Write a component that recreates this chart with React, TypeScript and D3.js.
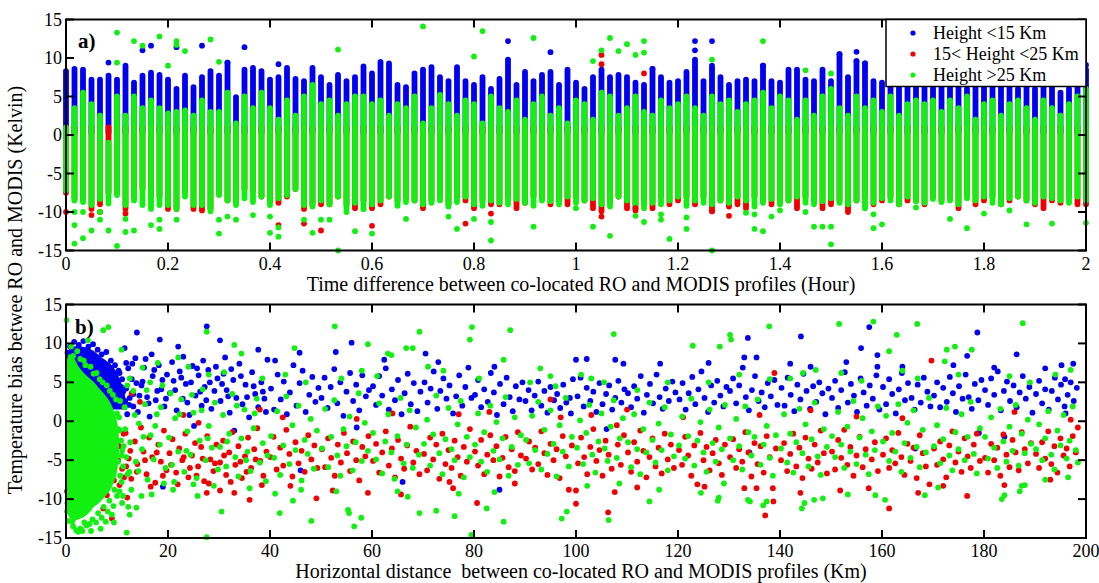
import React from 'react';
import * as d3 from 'd3';

const BLUE = '#0000f0';
const RED = '#f00000';
const GREEN = '#11f011';

// ---------- Panel a: one column per minute of time difference (0..120 min) ----------
const A_MINUTES = d3.range(0, 121);
const A_BLUE_TOP = [
  8.3, 8.6, 8.5, 7.2, 7.2, 7.7, 7.2, 9.0, 6.8, 7.7,
  8.1, 7.8, 7.2, 6.0, 7.7, 6.2, 7.5, 8.3, 7.7, 9.4,
  4.9, 8.5, 8.7, 8.3, 7.2, 7.5, 8.7, 7.3, 7.0, 8.7,
  7.5, 6.5, 7.8, 7.0, 7.5, 8.9, 8.0, 9.5, 9.3, 6.5,
  6.2, 8.0, 8.5, 8.8, 7.5, 7.0, 8.8, 7.0, 6.5, 7.5,
  6.0, 7.3, 9.8, 6.5, 8.2, 7.0, 7.8, 8.2, 6.5, 8.5,
  6.8, 6.0, 7.5, 8.5, 7.5, 7.8, 7.5, 6.8, 6.5, 8.6,
  7.5, 6.8, 7.0, 8.2, 9.8, 7.0, 9.0, 7.5, 6.5, 7.0,
  7.2, 7.0, 9.0, 7.0, 6.8, 8.5, 8.5, 7.2, 7.0, 8.5,
  7.0, 10.5, 7.5, 9.6, 9.3, 7.0, 6.8, 6.5, 7.5, 6.8,
  7.0, 6.5, 7.0, 7.2, 6.5, 7.0, 6.0, 6.5, 7.0, 6.5,
  6.8, 6.5, 6.0, 7.5, 6.0, 6.5, 7.5, 5.5, 6.0, 6.5,
  8.5,
];
const A_BLUE_BOT = 0.3;
const A_RED_TOP = 1.0;
const A_GREEN_TOP = [
  1.0, 3.5, 5.5, 4.0, 2.5, -1.0, 5.0, 2.5, 5.0, 3.5,
  4.5, 3.5, 2.8, 3.0, 3.2, 2.5, 4.5, 3.0, 3.0, 5.5,
  1.5, 5.0, 3.5, 5.5, 3.5, 2.0, 4.5, 2.5, 5.0, 6.5,
  4.0, 4.5, 2.5, 4.0, 5.0, 5.0, 4.0, 4.5, 2.5, 4.0,
  3.5, 5.0, 1.5, 3.5, 5.2, 4.0, 2.5, 4.5, 4.0, 1.5,
  5.0, 3.5, 3.0, 4.5, 2.0, 4.0, 5.0, 2.5, 3.5, 1.5,
  4.5, 4.0, 2.0, 5.5, 5.0, 2.5, 3.5, 5.0, 3.0, 2.5,
  4.5, 3.5, 4.0, 5.0, 3.5, 2.5, 5.0, 4.0, 4.5, 3.0,
  4.0, 4.5, 5.5, 3.5, 5.0, 4.5, 2.0, 4.5, 2.5, 5.0,
  6.0, 3.5, 2.5, 5.0, 3.5, 4.5, 3.0, 5.0, 2.5, 4.0,
  4.5, 4.0, 4.5, 3.0, 4.5, 3.5, 5.0, 2.0, 4.0, 4.5,
  2.5, 4.0, 4.5, 3.5, 2.0, 4.5, 3.5, 2.5, 4.0, 5.0,
  6.0,
];
const A_GREEN_BOT = [
  -7.2, -8.5, -8.7, -9.1, -8.3, -8.9, -7.8, -9.1, -8.5, -9.1,
  -9.6, -9.1, -9.1, -9.6, -8.0, -9.1, -9.1, -9.9, -7.8, -8.5,
  -9.1, -8.2, -8.7, -8.0, -9.1, -8.2, -7.8, -7.0, -9.1, -9.3,
  -8.5, -9.0, -8.0, -9.5, -8.8, -9.6, -9.0, -8.5, -8.0, -9.2,
  -8.7, -8.5, -9.0, -8.8, -8.5, -9.3, -8.7, -8.0, -9.0, -9.2,
  -8.5, -8.8, -9.0, -8.3, -8.8, -9.2, -8.5, -8.6, -9.0, -8.0,
  -8.8, -8.5, -8.2, -9.0, -9.3, -8.0, -8.5, -9.0, -9.5, -8.8,
  -9.0, -8.5, -8.0, -9.2, -8.5, -8.8, -9.0, -8.5, -8.8, -8.0,
  -8.5, -9.3, -8.8, -8.3, -9.0, -8.5, -8.0, -8.8, -9.0, -8.6,
  -8.2, -8.8, -9.0, -8.5, -9.5, -8.8, -8.2, -8.5, -9.0, -8.0,
  -8.6, -8.8, -8.3, -8.7, -8.5, -9.0, -8.2, -8.5, -8.0, -8.8,
  -9.0, -8.2, -8.0, -8.5, -8.8, -8.0, -8.2, -8.5, -8.8, -8.0,
  -8.5,
];
const A_RED_BOT = [
  -7.5, -8.3, -8.3, -9.6, -9.0, -7.5, -7.5, -9.6, -8.0, -7.0,
  -8.0, -8.0, -9.6, -9.6, -7.3, -9.6, -9.8, -9.6, -7.6, -8.5,
  -8.5, -7.0, -7.2, -8.0, -8.5, -8.8, -8.0, -7.0, -9.6, -9.0,
  -9.0, -9.0, -8.0, -9.0, -9.5, -8.5, -9.5, -9.0, -8.0, -8.5,
  -8.0, -8.5, -9.5, -8.5, -8.0, -9.0, -8.0, -8.5, -9.5, -8.5,
  -9.0, -9.0, -8.0, -9.5, -8.8, -8.0, -8.0, -9.0, -8.5, -9.0,
  -8.0, -8.5, -9.5, -9.9, -8.5, -8.0, -9.5, -9.8, -8.5, -9.5,
  -8.0, -9.0, -8.5, -8.0, -9.0, -8.0, -9.9, -8.5, -9.3, -9.0,
  -9.5, -8.0, -8.5, -9.0, -8.5, -8.5, -9.5, -8.0, -8.5, -9.5,
  -9.0, -8.5, -10.0, -8.5, -8.0, -9.0, -8.5, -8.0, -9.0, -8.5,
  -8.5, -9.0, -8.0, -8.5, -8.0, -9.5, -8.0, -9.0, -8.5, -8.0,
  -9.0, -8.5, -8.0, -8.5, -9.0, -9.5, -8.5, -8.8, -8.0, -9.0,
  -9.0,
];
// isolated points [minute, bias K]
const A_BLUE_OUT: [number, number][] = [
  [5, 9.4], [9, 11.0], [10, 11.6], [13, 11.4], [16, 11.6], [21, 11.4], [19, 9.4], [25, 9.2],
  [52, 12.2], [57, 10.75], [74, 12.2], [74, 11.0], [76, 12.2], [69, 8.6], [91, 10.5],
  [93, 10.8], [93, 9.6], [94, 9.3], [82, 9.0], [120, 9.1],
];
const A_RED_OUT: [number, number][] = [
  [0, -10.0], [3, -10.4], [4, -10.0], [7, -10.2], [25, -11.7], [28, -11.5], [30, -12.4],
  [36, -11.8], [47, -11.5], [50, -10.2], [63, -10.6], [67, -9.5], [76, -9.9], [78, -10.5],
  [63, 10.4], [63, 9.2], [68, 8.0],
];
const A_GREEN_OUT: [number, number][] = [
  [6, 13.3], [8, 12.2], [9, 11.6], [11, 12.8], [13, 12.2], [13, 11.7], [14, 10.9], [17, 12.4],
  [6, 9.4], [12, 9.0], [18, 9.5], [32, 11.1], [42, 14.1], [49, 13.5], [48, 10.2], [55, 12.6],
  [62, 9.6], [64, 12.6], [63, 11.0], [65, 10.9], [66, 11.8], [68, 12.2], [68, 10.7], [67, 10.4],
  [76, 9.8], [82, 12.2], [87, 8.4], [90, 8.0],
  [1, -10.0], [1, -11.7], [1, -14.1], [2, -10.0], [2, -13.4], [3, -12.4], [4, -10.0], [4, -11.0],
  [5, -12.4], [6, -14.4], [7, -10.9], [7, -12.6], [8, -12.4], [10, -11.7], [11, -11.0],
  [11, -12.2], [13, -11.0], [18, -11.0], [18, -12.8], [19, -10.6], [20, -11.0], [22, -10.4],
  [24, -10.6], [24, -12.7], [25, -12.0], [25, -13.2], [28, -11.0], [29, -12.7], [30, -11.0],
  [31, -11.0], [32, -15.0], [33, -10.0], [34, -12.5], [35, -9.6], [36, -12.8], [40, -10.9],
  [45, -10.6], [46, -12.2], [48, -10.9], [50, -13.7], [50, -11.3], [55, -11.9], [60, -9.5],
  [62, -11.9], [64, -13.1], [67, -10.5], [68, -11.3], [70, -10.3], [70, -11.0], [71, -13.5],
  [73, -10.7], [73, -12.2], [76, -15.0], [80, -10.1], [81, -10.3], [81, -12.2], [82, -12.5],
  [83, -10.6], [84, -9.8], [87, -10.0], [88, -11.9], [89, -11.9], [90, -11.9], [90, -14.2],
  [95, -12.1], [95, -10.3], [96, -11.6], [100, -9.4], [104, -10.9], [106, -12.1], [108, -10.2],
  [111, -9.8], [113, -11.6], [116, -11.5], [120, -11.4],
];

// ---------- Panel b: horizontal distance (km) vs bias (K) ----------
// dense cloud near 0-12 km: envelopes [km, low, high]
const B_BLUE_CLOUD: [number, number, number][] = [
  [0, 0.0, 8.5], [1, 0.5, 9.5], [3, 1.0, 9.6], [5, 1.0, 9.2], [7, 1.2, 8.2],
  [9, 1.5, 7.2], [10.5, 1.5, 5.5], [11.5, 1.5, 3.5], [12, 1.5, 1.6],
];
const B_GREEN_CLOUD: [number, number, number][] = [
  [0, -11.0, 6.5], [0.6, -12.3, 8.6], [1.5, -12.8, 8.2], [2.5, -12.6, 7.0], [3.5, -12.3, 6.2],
  [4.5, -11.8, 5.6], [5.5, -11.0, 5.0], [6.5, -10.5, 4.2], [7.5, -9.8, 3.5], [8.5, -9.0, 2.6],
  [9.3, -8.0, 1.5], [10.0, -6.5, 0.0], [10.4, -4.5, -2.0],
];
const B_BLUE: [number, number][] = [
  [0.3, 8.8], [0.8, 9.6], [1.6, 10.2], [2.5, 9.8], [3.4, 10.3], [4.4, 9.6], [5.3, 9.9], [6.2, 9.2],
  [7.0, 8.6], [7.9, 8.9], [8.8, 7.8], [9.6, 7.2], [10.3, 6.5], [11.0, 5.4], [11.8, 4.2], [12.5, 3.0],
  [13.2, 1.9], [10.7, 2.3], [12.0, 0.9], [5.0, -9.7],
  [10.5, 6.2], [11.2, 3.8], [11.8, 7.5], [12.4, 2.1], [12.9, 5.4], [13.6, 8.1], [14.1, 1.2], [14.8, 4.6],
  [15.3, 6.9], [15.9, 3.1], [16.4, 0.6], [17.0, 5.8], [17.6, 2.7], [18.2, 7.2], [18.7, 4.1], [19.3, 1.9],
  [19.8, 6.0], [13.2, 3.5], [16.8, 8.6], [11.5, 9.4], [13.9, 11.4], [18.4, 10.5], [19.0, -8.4],
  [10.8, 4.4], [11.6, 2.6], [12.2, 6.8], [13.0, 7.4], [13.8, 4.9], [14.4, 3.3], [15.0, 5.1], [15.6, 8.0],
  [16.2, 2.3], [17.3, 6.6], [17.9, 3.9], [18.9, 5.3], [19.6, 2.9], [20.8, 7.6], [21.4, 4.0], [22.6, 5.6],
  [23.8, 2.4], [24.5, 5.0], [25.7, 6.8], [26.3, 3.8], [27.5, 2.7], [28.2, 5.0], [29.4, 7.0], [30.6, 4.8],
  [31.8, 3.2], [32.4, 6.7], [34.3, 5.8], [35.5, 3.1], [36.8, 4.5], [38.6, 3.8], [39.2, 1.2],
  [20.4, 3.6], [21.1, 5.2], [21.7, 1.4], [22.3, 6.4], [22.9, 2.9], [23.5, 4.8], [24.2, 0.8], [24.8, 7.1],
  [25.4, 3.3], [26.0, 5.9], [26.6, 2.0], [27.2, 4.4], [27.9, 6.6], [28.5, 1.6], [29.1, 3.9], [29.7, 5.5],
  [23.0, 8.3], [26.9, 7.8], [25.1, -0.6], [22.0, 9.6], [27.6, 12.2], [30.2, 10.4],
  [30.3, 2.6], [30.9, 6.1], [31.5, 4.0], [32.1, 1.1], [32.8, 5.3], [33.4, 3.0], [34.0, 7.4], [34.6, 2.2],
  [35.2, 4.7], [35.9, 0.5], [36.5, 6.3], [37.1, 3.5], [37.7, 1.8], [38.3, 5.0], [38.9, 2.9], [39.5, 7.9],
  [37.7, 9.2], [31.2, 8.2], [33.0, -1.2],
  [40.2, 4.2], [40.8, 1.5], [41.5, 6.0], [42.1, 2.8], [42.7, 5.1], [43.3, 0.9], [43.9, 3.7], [44.6, 7.2],
  [45.2, 2.0], [45.8, 4.9], [46.4, 6.5], [47.0, 1.2], [47.7, 3.4], [48.3, 5.7], [48.9, 2.5], [49.5, 4.3],
  [41.0, 7.8], [46.0, -6.3], [45.8, 8.8],
  [50.1, 3.0], [50.7, 5.6], [51.3, 1.7], [51.9, 4.4], [52.6, 6.7], [53.2, 2.3], [53.8, 5.0], [54.4, 0.7],
  [55.0, 3.8], [55.7, 6.2], [56.3, 2.6], [56.9, 4.7], [57.5, 1.4], [58.1, 5.9], [58.8, 3.2], [59.4, 4.0],
  [52.9, 8.9], [56.0, 10.1], [57.0, -0.8],
  [60.2, 4.5], [60.8, 2.1], [61.4, 5.8], [62.0, 3.3], [62.7, 6.8], [63.3, 1.5], [63.9, 4.1], [64.5, 2.7],
  [65.1, 5.3], [65.8, 0.9], [66.4, 3.6], [67.0, 6.1], [67.6, 2.2], [68.2, 4.9], [68.9, 1.3], [69.5, 3.8],
  [70.5, 8.7], [62.4, 7.9], [66.0, -7.8],
  [70.3, 5.0], [70.9, 2.4], [71.5, 4.2], [72.1, 6.4], [72.8, 1.6], [73.4, 3.9], [74.0, 5.5], [74.6, 2.9],
  [75.2, 4.6], [75.9, 1.0], [76.5, 3.2], [77.1, 5.9], [77.7, 2.0], [78.3, 4.4], [78.9, 6.9], [79.5, 3.0],
  [73.0, 7.6],
  [80.2, 3.4], [80.8, 5.3], [81.4, 1.8], [82.0, 4.1], [82.7, 2.5], [83.3, 6.2], [83.9, 3.7], [84.5, 0.8],
  [85.1, 4.8], [85.8, 2.2], [86.4, 5.6], [87.0, 3.1], [87.6, 1.3], [88.2, 4.5], [88.9, 2.8], [89.5, 5.0],
  [85.0, -8.8], [84.0, 7.0],
  [90.1, 2.6], [90.7, 4.0], [91.3, 1.4], [91.9, 3.3], [92.6, 5.1], [93.2, 2.0], [93.8, 3.9], [94.4, 1.1],
  [95.0, 4.4], [95.7, 2.7], [96.3, 3.5], [96.9, 1.7], [97.5, 4.7], [98.1, 2.4], [98.8, 3.0], [99.4, 5.4],
  [100.0, 7.9], [102.1, 8.0], [99.0, 1.0],
  [100.3, 3.2], [100.9, 5.6], [101.5, 1.9], [102.1, 4.3], [102.8, 2.6], [103.4, 3.8], [104.0, 1.2],
  [104.6, 4.9], [105.2, 2.2], [105.9, 3.5], [106.5, 4.6], [107.1, 1.5], [107.7, 3.0], [108.3, 5.2],
  [108.9, 2.4], [109.5, 4.1], [107.7, 7.9], [109.3, 7.4], [106.0, -1.0],
  [110.2, 3.6], [110.8, 1.8], [111.4, 4.5], [112.0, 2.9], [112.7, 5.8], [113.3, 1.1], [113.9, 3.4],
  [114.5, 4.8], [115.1, 2.3], [115.8, 6.0], [116.4, 3.1], [117.0, 1.6], [117.6, 4.2], [118.2, 2.6],
  [118.9, 5.1], [119.5, 3.7], [116.5, 7.4],
  [120.3, 2.8], [120.9, 4.9], [121.5, 1.5], [122.1, 3.6], [122.8, 5.7], [123.4, 2.2], [124.0, 4.1],
  [124.6, 6.4], [125.2, 3.0], [125.9, 1.2], [126.5, 4.6], [127.1, 2.4], [127.7, 5.2], [128.3, 3.3],
  [128.9, 1.9], [129.5, 4.4], [126.0, 7.5],
  [130.2, 3.9], [130.8, 5.5], [131.4, 2.3], [132.0, 4.6], [132.7, 6.9], [133.3, 3.1], [133.9, 1.4],
  [134.5, 4.0], [135.1, 5.8], [135.8, 2.6], [136.4, 3.7], [137.0, 1.8], [137.6, 4.9], [138.2, 3.2],
  [138.9, 5.3], [139.5, 2.1], [133.7, 10.7], [133.0, 8.2], [135.4, 8.2], [134.0, -4.0],
  [140.3, 4.3], [140.9, 2.0], [141.5, 5.6], [142.1, 3.4], [142.8, 1.3], [143.4, 4.7], [144.0, 2.8],
  [144.6, 6.1], [145.2, 3.9], [145.9, 1.6], [146.5, 4.5], [147.1, 2.5], [147.7, 5.0], [148.3, 3.6],
  [148.9, 0.9], [149.5, 4.2], [144.1, 10.9], [142.0, 7.4], [146.0, 7.0],
  [150.2, 3.0], [150.8, 5.2], [151.4, 1.7], [152.0, 4.0], [152.7, 6.3], [153.3, 2.4], [153.9, 4.8],
  [154.5, 3.3], [155.1, 1.2], [155.8, 5.5], [156.4, 3.7], [157.0, 2.0], [157.6, 4.6], [158.2, 2.9],
  [158.9, 5.9], [159.5, 1.5], [157.5, 12.1], [155.9, 9.4], [159.1, 8.5], [159.1, 7.0], [153.0, 7.6],
  [160.2, 4.4], [160.8, 2.2], [161.4, 5.4], [162.0, 3.5], [162.7, 1.0], [163.3, 4.1], [163.9, 6.2],
  [164.5, 2.7], [165.1, 4.9], [165.8, 3.0], [166.4, 1.5], [167.0, 4.7], [167.6, 2.4], [168.2, 5.6],
  [168.9, 3.8], [169.5, 1.9], [164.0, 7.0], [166.5, -3.5],
  [170.2, 3.3], [170.8, 5.0], [171.4, 1.8], [172.0, 4.3], [172.7, 2.5], [173.3, 5.7], [173.9, 3.6],
  [174.5, 1.2], [175.1, 4.5], [175.8, 2.9], [176.4, 6.0], [177.0, 3.1], [177.6, 1.6], [178.2, 4.8],
  [178.9, 2.7], [179.5, 5.3], [178.7, 11.4], [176.7, 8.4], [174.0, 7.2], [179.0, -1.5],
  [180.2, 4.0], [180.8, 2.1], [181.4, 5.5], [182.0, 3.4], [182.7, 6.4], [183.3, 1.4], [183.9, 3.9],
  [184.5, 5.1], [185.1, 2.6], [185.8, 4.6], [186.4, 1.8], [187.0, 3.7], [187.6, 5.8], [188.2, 2.9],
  [188.9, 4.4], [189.5, 1.1], [186.4, 8.6], [182.0, 6.9], [184.0, -2.0],
  [190.2, 3.5], [190.8, 5.2], [191.4, 2.3], [192.0, 4.1], [192.7, 1.5], [193.3, 3.9], [193.9, 5.6],
  [194.5, 2.8], [195.1, 4.7], [195.8, 1.9], [196.4, 3.4], [197.0, 5.0], [197.6, 2.6], [198.2, 4.3],
  [195.2, 7.2], [197.5, 7.4], [195.9, 5.4], [192.0, 6.8], [196.0, 1.0],
];
const B_RED: [number, number][] = [
  [0.2, -9.0], [0.3, -10.5], [0.5, -11.5], [1.0, -10.8], [7.8, -6.5], [8.6, -4.2], [9.4, -7.6],
  [10.0, -3.0], [10.5, -8.2], [11.3, -1.6], [11.8, -5.8], [8.0, -9.5], [9.0, -12.5], [7.3, -11.2],
  [12.9, 3.6], [9.6, -1.2],
  [10.2, -5.0], [11.4, -7.2], [12.6, -3.8], [13.9, -6.5], [15.5, -5.0], [16.6, -8.4], [17.8, -4.0],
  [19.0, -7.0], [20.6, -5.6], [21.9, -8.1], [23.1, -4.6], [24.3, -6.0], [25.6, -7.0], [26.8, -4.8],
  [28.0, -8.0], [29.2, -5.4], [31.0, -4.4], [32.3, -7.8], [34.2, -5.2], [35.4, -6.5], [37.2, -4.9],
  [38.4, -8.2],
  [10.4, -3.2], [11.0, -6.1], [11.7, -1.5], [12.3, -4.8], [12.8, -7.4], [13.5, -2.6], [14.0, -5.5],
  [14.7, -0.8], [15.2, -3.9], [15.8, -6.8], [16.3, -2.1], [16.9, -4.6], [17.5, -7.9], [18.1, -3.0],
  [18.6, -5.2], [19.2, -1.2], [19.7, -6.3], [12.0, -9.8], [14.5, 2.5],
  [20.3, -4.1], [20.9, -2.3], [21.6, -6.6], [22.2, -3.5], [22.8, -5.0], [23.4, -1.6], [24.0, -7.2],
  [24.7, -4.4], [25.3, -2.8], [25.9, -5.8], [26.5, -3.3], [27.1, -7.7], [27.7, -1.9], [28.3, -4.9],
  [28.9, -6.4], [29.5, -3.0], [27.6, -9.2], [23.0, 0.8], [26.0, -0.2],
  [30.2, -5.3], [30.8, -2.5], [31.4, -6.9], [32.0, -4.0], [32.6, -1.4], [33.2, -5.6], [33.8, -3.2],
  [34.5, -7.3], [35.1, -4.5], [35.7, -2.1], [36.3, -6.0], [36.9, -3.6], [37.5, -0.9], [38.1, -5.1],
  [38.7, -7.0], [39.3, -3.9], [30.2, -8.9], [33.0, -9.2], [36.0, -10.1], [38.0, 1.5],
  [40.1, -4.6], [40.7, -2.0], [41.3, -6.2], [42.0, -3.4], [42.6, -5.7], [43.2, -1.1], [43.8, -4.2],
  [44.4, -7.1], [45.0, -2.7], [45.6, -5.4], [46.2, -3.8], [46.8, -6.5], [47.5, -1.8], [48.1, -4.9],
  [48.7, -3.1], [49.3, -6.0], [49.1, -9.9], [44.0, -8.3], [42.5, 0.5],
  [50.2, -3.6], [50.8, -5.9], [51.4, -2.2], [52.0, -4.7], [52.7, -7.0], [53.3, -3.0], [53.9, -5.3],
  [54.5, -1.5], [55.1, -4.1], [55.7, -6.4], [56.3, -2.6], [56.9, -5.0], [57.5, -7.6], [58.1, -3.3],
  [58.7, -4.5], [59.3, -1.9], [52.3, -8.9], [59.2, -9.2], [57.0, 0.3],
  [60.2, -5.1], [60.8, -2.9], [61.4, -6.6], [62.0, -4.0], [62.7, -1.3], [63.3, -5.7], [63.9, -3.5],
  [64.5, -7.2], [65.1, -2.4], [65.7, -4.8], [66.3, -6.1], [66.9, -3.1], [67.5, -0.7], [68.1, -5.3],
  [68.7, -3.8], [69.3, -6.8], [65.7, -9.4], [64.0, 1.0],
  [70.2, -4.2], [70.8, -6.3], [71.4, -2.1], [72.0, -4.9], [72.6, -3.0], [73.2, -7.4], [73.8, -1.6],
  [74.4, -5.5], [75.0, -3.7], [75.6, -6.0], [76.2, -2.5], [76.8, -4.6], [77.4, -7.0], [78.0, -3.3],
  [78.6, -5.2], [79.2, -1.0], [75.2, -7.8], [75.9, -8.6], [77.0, 0.9],
  [80.2, -3.9], [80.8, -5.7], [81.4, -2.4], [82.0, -6.8], [82.6, -4.3], [83.2, -1.8], [83.8, -5.0],
  [84.4, -3.2], [85.0, -7.1], [85.6, -4.7], [86.2, -2.0], [86.8, -5.9], [87.4, -3.6], [88.0, -6.4],
  [88.6, -1.4], [89.2, -4.4], [80.6, -10.5], [83.0, 1.2], [88.0, -8.0],
  [90.2, -4.8], [90.8, -2.6], [91.4, -6.2], [92.0, -3.4], [92.6, -5.5], [93.2, -1.3], [93.8, -4.1],
  [94.4, -6.9], [95.0, -2.9], [95.6, -5.0], [96.2, -3.6], [96.8, -7.3], [97.4, -1.9], [98.0, -4.5],
  [98.6, -8.8], [99.2, -3.1], [100.0, -8.9], [100.0, -10.6], [97.0, 0.5], [95.0, 2.8],
  [100.4, -5.4], [101.0, -2.1], [101.6, -4.6], [102.2, -6.8], [102.8, -3.3], [103.4, -1.0],
  [104.0, -5.1], [104.6, -3.7], [105.2, -7.0], [105.8, -2.5], [106.4, -4.3], [107.0, -6.1],
  [107.6, -9.1], [108.2, -3.0], [108.8, -5.6], [109.4, -1.8], [106.3, -11.7], [108.0, -0.5],
  [103.0, 0.8],
  [110.2, -4.0], [110.8, -6.5], [111.4, -2.7], [112.0, -5.2], [112.6, -1.2], [113.2, -3.8],
  [113.8, -7.2], [114.4, -4.6], [115.0, -2.2], [115.6, -5.8], [116.2, -3.4], [116.8, -6.7],
  [117.4, -1.6], [118.0, -4.9], [118.6, -3.0], [119.2, -6.0], [110.0, 1.5], [112.0, -8.5],
  [120.2, -3.7], [120.8, -5.6], [121.4, -2.0], [122.0, -4.4], [122.6, -7.0], [123.2, -3.1],
  [123.8, -8.1], [124.4, -1.5], [125.0, -5.0], [125.2, -8.4], [125.6, -3.3], [126.2, -6.3],
  [126.8, -4.1], [127.4, -2.4], [128.0, -5.4], [128.6, -6.9], [129.2, -3.0], [121.0, 0.5],
  [130.2, -4.6], [130.8, -2.3], [131.4, -6.0], [132.0, -3.6], [132.6, -5.2], [133.2, -1.4],
  [133.8, -4.0], [134.4, -7.1], [135.0, -2.8], [135.6, -5.5], [136.2, -3.2], [136.8, -6.6],
  [137.4, -1.9], [137.1, -12.1], [138.0, -4.6], [138.6, -8.6], [138.7, -10.3], [139.2, -3.5],
  [138.9, 6.2], [133.0, -8.6], [135.4, -8.6], [136.0, 0.8],
  [140.2, -5.0], [140.8, -2.8], [141.4, -6.4], [142.0, -4.2], [142.6, -1.6], [143.2, -5.8],
  [143.8, -3.4], [144.4, -7.3], [145.0, -2.1], [145.6, -4.8], [146.2, -6.1], [146.8, -3.0],
  [147.4, -5.3], [148.0, -1.2], [148.6, -4.1], [149.2, -6.7], [144.0, -9.2], [146.0, 1.4],
  [150.2, -3.9], [150.8, -6.2], [151.4, -2.4], [151.8, -8.9], [152.0, -4.7], [152.6, -1.1],
  [153.2, -5.6], [153.8, -3.3], [154.4, -7.0], [155.0, -4.4], [155.6, -2.0], [156.2, -5.9],
  [156.8, -3.6], [157.4, -8.6], [158.0, -4.9], [158.6, -2.7], [159.2, -6.4], [155.0, 0.6],
  [160.2, -4.3], [160.8, -2.2], [161.4, -11.2], [161.4, -6.0], [162.0, -3.7], [162.6, -5.4],
  [163.2, -1.5], [163.8, -4.6], [164.4, -6.9], [165.0, -2.9], [165.6, -5.1], [166.2, -3.4],
  [166.8, -7.3], [167.1, -9.2], [167.4, -1.8], [168.0, -4.1], [168.6, -5.8], [169.3, -8.1],
  [169.7, 7.8], [164.0, 0.4],
  [170.2, -3.5], [170.8, -5.6], [171.4, -2.6], [172.0, -4.9], [172.6, -7.2], [173.2, -3.1],
  [173.8, -1.3], [174.4, -5.3], [175.0, -3.9], [175.6, -6.5], [176.2, -2.2], [176.7, -9.6],
  [176.8, -4.5], [177.4, -6.0], [178.0, -3.0], [178.6, -1.6], [179.2, -5.1], [172.0, -8.3],
  [180.2, -4.7], [180.8, -6.6], [181.4, -2.9], [182.0, -5.0], [182.6, -3.4], [183.2, -7.0],
  [183.8, -1.7], [184.4, -4.3], [185.0, -5.9], [185.6, -2.4], [186.2, -4.0], [186.8, -6.3],
  [187.4, -1.4], [188.0, -3.6], [188.6, -5.4], [189.2, -2.8], [186.0, 1.2], [184.0, -8.2],
  [190.2, -4.2], [190.8, -6.0], [191.4, -2.7], [192.0, -4.8], [192.6, -1.3], [193.2, -5.5],
  [193.8, -3.2], [194.4, -6.6], [195.0, -2.2], [195.6, -4.4], [196.2, -3.5], [196.8, -5.8],
  [197.4, -1.9], [198.0, -4.0], [198.4, -0.8], [193.0, -7.5], [197.0, 0.2],
];
const B_GREEN: [number, number][] = [
  [0.1, 13.0], [4.3, 10.4], [7.3, 11.7], [8.3, 12.1], [1.0, 9.6], [2.2, 9.0], [3.5, 7.8], [4.8, 7.0],
  [6.0, 6.2], [7.2, 5.0], [8.6, 3.9], [9.8, 2.8], [10.4, 0.5], [10.8, -2.5], [10.2, -5.2], [10.6, -7.0],
  [9.5, -8.8], [8.5, -10.2], [7.4, -11.0], [6.3, -11.8], [5.2, -12.6], [4.0, -13.4], [2.8, -13.8],
  [1.4, -13.5], [0.4, -12.8], [9.0, -12.0], [7.8, -12.9], [11.2, -9.6], [12.2, -11.0], [3.2, -14.1],
  [2.0, -14.0],
  [0.6, 7.5], [1.4, 8.4], [2.8, 8.0], [3.8, 7.2], [5.4, 6.1], [6.6, 5.4], [8.0, 4.6], [9.2, 3.4],
  [10.0, 1.0], [10.5, -1.2], [11.0, -3.8], [11.2, -5.8], [10.9, -7.8], [10.0, -9.6], [9.3, -10.9],
  [8.2, -11.6], [7.0, -12.4], [5.9, -13.0], [4.6, -13.2], [3.6, -13.0], [2.4, -14.2], [1.2, -12.9],
  [0.2, -11.6], [11.8, -4.6], [12.4, -6.5], [11.6, -1.0], [9.4, -13.0], [6.8, -13.8], [4.9, -14.1],
  [10.6, 2.6], [11.3, -3.2], [12.0, 4.6], [12.8, -8.8], [13.5, 0.8], [14.2, -6.4], [15.2, -2.0],
  [15.8, 4.0], [16.8, -9.4], [17.5, -0.6], [18.6, 1.8], [19.2, -8.0], [20.5, 3.6], [21.2, -7.8],
  [22.3, 0.9], [23.6, -3.8], [24.7, 3.4], [25.8, -9.6], [26.6, 1.4], [27.8, -2.2], [29.0, -8.3],
  [31.6, -2.6], [33.5, 2.0], [35.3, -5.0], [37.0, 1.0], [39.5, -4.4],
  [10.3, -1.0], [10.9, -4.4], [11.5, 1.8], [12.1, -6.8], [12.6, -2.7], [13.2, 3.9], [13.7, -5.2],
  [14.3, -0.3], [14.9, -3.6], [15.5, 2.2], [16.0, -7.5], [16.6, -1.8], [17.2, -4.9], [17.8, 0.9],
  [18.4, -3.0], [18.9, 4.6], [19.5, -6.0], [10.9, 9.2], [12.5, 5.5], [15.0, 6.9], [11.9, -14.3],
  [11.0, -10.5], [12.5, -12.0], [13.8, -11.1], [10.5, -9.0], [14.8, -9.6], [16.5, 5.0], [18.0, 7.5],
  [20.2, -2.1], [20.8, -5.6], [21.4, 0.4], [22.0, -3.9], [22.6, 2.8], [23.2, -6.5], [23.8, -1.3],
  [24.4, -4.3], [25.0, 1.1], [25.6, -7.3], [26.2, -2.5], [26.8, 4.1], [27.4, -5.0], [28.0, -0.6],
  [28.6, -3.4], [29.2, 2.4], [29.8, -6.2], [27.6, 11.5], [24.0, 7.0], [22.0, 8.2], [27.6, -14.9],
  [21.0, -8.8], [25.0, -8.1], [28.0, 6.0],
  [30.2, -3.3], [30.8, 0.8], [31.4, -5.8], [32.0, -1.6], [32.6, 3.5], [33.2, -4.6], [33.8, -7.1],
  [34.4, -2.2], [35.0, 1.5], [35.6, -3.9], [36.2, -6.4], [36.8, -0.9], [37.4, 2.9], [38.0, -5.3],
  [38.6, -2.8], [39.2, -7.7], [33.0, 9.8], [34.4, 8.7], [30.5, -11.6], [36.0, -8.6], [31.0, 6.3],
  [38.5, 5.5],
  [40.2, -1.9], [40.8, -4.7], [41.4, 1.3], [42.0, -6.9], [42.6, -3.1], [43.2, 3.2], [43.8, -5.5],
  [44.4, -0.5], [45.0, -3.7], [45.6, 2.0], [46.2, -7.6], [46.8, -2.4], [47.4, -4.2], [48.0, 0.3],
  [48.6, -6.1], [49.2, -1.2], [44.8, 9.4], [41.9, -11.8], [48.1, -12.8], [46.1, -8.8], [43.0, 6.0],
  [47.0, 5.0], [41.0, -9.3], [44.5, -10.2],
  [50.2, -3.5], [50.8, 1.6], [51.4, -5.9], [52.0, -2.0], [52.6, 2.7], [53.2, -4.4], [53.8, -7.0],
  [54.4, -1.0], [55.0, -3.2], [55.6, 0.6], [56.2, -6.3], [56.8, -2.7], [57.4, 3.6], [58.0, -5.1],
  [58.6, -0.2], [59.2, -3.8], [52.7, 12.2], [59.2, 9.9], [55.3, -11.4], [55.5, -11.8], [56.5, -13.5],
  [57.9, -12.4], [53.0, -9.0], [54.0, 5.5], [58.0, 6.5],
  [60.2, -1.5], [60.8, -4.9], [61.4, 2.3], [62.0, -6.7], [62.6, -2.6], [63.2, 0.9], [63.8, -4.0],
  [64.4, -7.4], [65.0, -1.9], [65.6, 3.0], [66.2, -5.4], [66.8, -3.0], [67.4, 1.4], [68.0, -6.0],
  [68.6, -0.8], [69.2, -4.3], [69.3, 11.5], [66.7, 9.4], [68.0, 9.4], [63.1, 8.7], [63.8, 8.5],
  [67.0, -9.7], [69.3, -11.8], [61.0, 5.8], [65.0, -9.0],
  [70.2, -2.9], [70.8, 0.2], [71.4, -5.7], [72.0, -1.7], [72.6, 3.3], [73.2, -4.1], [73.8, -6.8],
  [74.4, -2.3], [75.0, 1.7], [75.6, -3.6], [76.2, -5.0], [76.8, -0.4], [77.4, 2.6], [78.0, -7.2],
  [78.6, -2.0], [79.2, -4.6], [79.6, 12.1], [79.2, 10.5], [72.6, -11.5], [76.2, -12.2],
  [79.5, -14.6], [74.0, 6.5], [71.0, 7.0], [77.0, -9.3],
  [80.2, -3.0], [80.8, 1.0], [81.4, -5.2], [82.0, -1.4], [82.6, -6.5], [83.2, 2.0], [83.8, -3.8],
  [84.4, -0.1], [85.0, -4.9], [85.6, -2.2], [86.2, 3.1], [86.8, -7.0], [87.4, -3.3], [88.0, 0.5],
  [88.6, -5.6], [89.2, -1.8], [87.1, 11.7], [85.8, 7.9], [82.5, -11.2], [85.8, -12.9], [81.0, 5.5],
  [84.0, -9.1],
  [90.2, -2.4], [90.8, -5.4], [91.4, 0.7], [92.0, -3.7], [92.6, 2.5], [93.2, -6.2], [93.8, -1.1],
  [94.4, -4.2], [95.0, 1.4], [95.6, -2.9], [96.2, -7.1], [96.8, -0.5], [97.4, -3.9], [98.0, 3.0],
  [98.6, -5.8], [99.2, -2.0], [93.0, 6.8], [97.2, -12.5], [98.2, -11.6], [91.0, 5.0], [95.0, 5.8],
  [96.0, 4.5],
  [100.2, -3.4], [100.8, 0.1], [101.4, -5.5], [102.0, -1.5], [102.6, 2.1], [103.2, -4.3],
  [103.8, -6.6], [104.4, -2.6], [105.0, 1.0], [105.6, -3.5], [106.2, -5.1], [106.8, -0.7],
  [107.4, 2.7], [108.0, -4.7], [108.6, -2.2], [109.2, 0.4], [107.4, 11.2], [102.2, -8.3],
  [106.4, -12.7], [103.0, 5.5], [105.5, 5.0], [101.0, 6.0], [108.5, -8.0],
  [110.2, -2.7], [110.8, -5.9], [111.4, 0.9], [112.0, -3.6], [112.6, -6.8], [113.2, -1.0],
  [113.8, -4.0], [114.4, 2.4], [115.0, -2.4], [115.6, -5.3], [116.2, -0.3], [116.8, -3.7],
  [117.4, 1.8], [118.0, -6.3], [118.6, -1.7], [119.2, -4.5], [114.4, -10.3], [116.3, -8.8],
  [112.0, 4.0], [118.0, 5.0],
  [120.2, -3.1], [120.8, 0.6], [121.4, -4.8], [122.0, -1.9], [122.6, 2.9], [123.2, -5.7],
  [123.8, -2.5], [124.4, -0.1], [125.0, -4.0], [125.6, -6.5], [126.2, 1.5], [126.8, -2.8],
  [127.4, -5.2], [128.0, -0.8], [128.6, -3.6], [129.2, 2.1], [122.9, 9.7], [130.2, 11.1],
  [130.4, 10.5], [128.2, 9.6], [124.5, -9.2], [128.0, -9.8], [127.8, -10.2], [126.0, 5.0],
  [129.0, -8.0],
  [130.2, -2.2], [130.8, -5.0], [131.4, 0.3], [132.0, -3.2], [132.6, -6.2], [133.2, 1.9],
  [133.8, -1.4], [134.4, -4.4], [135.0, -2.0], [135.6, 2.8], [136.2, -5.6], [136.8, -3.0],
  [137.4, -0.6], [138.0, -4.7], [138.6, -7.0], [139.2, -1.8], [137.9, 12.2], [134.1, -10.3],
  [137.4, -10.3], [133.7, -10.1], [136.7, -10.8], [132.0, 6.0], [138.0, 5.4],
  [140.2, -3.5], [140.8, 0.9], [141.4, -5.3], [142.0, -1.6], [142.6, -6.6], [143.2, -2.7],
  [143.8, 1.6], [144.4, -4.1], [145.0, -0.4], [145.6, -5.8], [146.2, -2.3], [146.8, 2.4],
  [147.4, -4.5], [148.0, -6.9], [148.6, -1.0], [149.2, -3.3], [144.3, -11.2], [144.8, -10.5],
  [146.7, -10.1], [148.4, -9.9], [142.0, 5.5], [147.0, 6.6], [144.5, 6.2],
  [150.2, -1.9], [150.8, -4.6], [151.4, 1.2], [152.0, -3.0], [152.6, -6.0], [153.2, -0.7],
  [153.8, -3.9], [154.4, 2.6], [155.0, -5.5], [155.6, -2.1], [156.2, 0.4], [156.8, -4.3],
  [157.4, -6.8], [158.0, -1.3], [158.6, -3.7], [159.2, 1.9], [151.6, 12.5], [158.3, 12.8],
  [153.3, -9.4], [158.7, -9.5], [152.0, 6.2], [156.0, 5.2],
  [160.2, -2.6], [160.8, 0.7], [161.4, -5.1], [162.0, -1.5], [162.6, -3.9], [163.2, 2.2],
  [163.8, -6.5], [164.4, -2.8], [165.0, -0.2], [165.6, -4.7], [166.2, 1.4], [166.8, -3.3],
  [167.4, -5.9], [168.0, -1.1], [168.6, -4.0], [169.2, 3.0], [166.9, 12.5], [162.9, 11.1],
  [161.4, 9.0], [160.6, -10.1], [168.4, -9.5], [164.0, 6.5], [167.0, 5.5],
  [170.2, -3.2], [170.8, -0.5], [171.4, -5.4], [172.0, -2.3], [172.6, 1.7], [173.2, -4.4],
  [173.8, -6.3], [174.4, -1.4], [175.0, -3.6], [175.6, 0.9], [176.2, -5.0], [176.8, -2.0],
  [177.4, 2.5], [178.0, -4.2], [178.6, -6.7], [179.2, -0.9], [172.7, 9.2], [174.3, 9.6],
  [177.6, 9.2], [172.3, 7.7], [175.0, 6.0], [171.0, -8.5],
  [180.2, -2.0], [180.8, -4.8], [181.4, 0.5], [182.0, -3.4], [182.6, -6.0], [183.2, 1.6],
  [183.8, -2.6], [184.4, -5.2], [185.0, -0.7], [185.6, -3.8], [186.2, 2.1], [186.8, -5.7],
  [187.4, -1.6], [188.0, -4.1], [188.6, 0.2], [189.2, -2.9], [187.6, 12.6], [183.5, -10.0],
  [187.4, -8.3], [188.0, -8.2], [185.0, 5.8], [189.0, 5.0], [184.0, -9.5], [187.0, -9.0],
  [190.2, -3.6], [190.8, -0.4], [191.4, -5.0], [192.0, -2.2], [192.6, 1.3], [193.2, -4.3],
  [193.8, -6.2], [194.4, -1.2], [195.0, -3.1], [195.6, 0.8], [196.2, -4.8], [196.8, -2.5],
  [197.4, 1.9], [198.0, -3.7], [198.4, -5.3], [194.0, 6.0], [197.0, 6.6], [192.0, -7.5],
  [196.5, -7.2],
];

const A_X_TICKS = [0, 0.2, 0.4, 0.6, 0.8, 1, 1.2, 1.4, 1.6, 1.8, 2];
const B_X_TICKS = [0, 20, 40, 60, 80, 100, 120, 140, 160, 180, 200];
const Y_TICKS = [-15, -10, -5, 0, 5, 10, 15];
const LEGEND = [
  { label: 'Height <15 Km', color: BLUE },
  { label: '15< Height <25 Km', color: RED },
  { label: 'Height >25 Km', color: GREEN },
];

const FONT = '"Liberation Serif", "Times New Roman", serif';
const R = 2.9;

type Scale = d3.ScaleLinear<number, number>;

function Frame({ x, y, xTicks, fmt, label }: { x: Scale; y: Scale; xTicks: number[]; fmt: (v: number) => string; label: string }) {
  const [x0, x1] = x.range();
  const [y0, y1] = y.range(); // y0 bottom, y1 top
  const tl = 8;
  return (
    <g>
      <rect x={x0} y={y1} width={x1 - x0} height={y0 - y1} fill="none" stroke="#000" strokeWidth={2} />
      {xTicks.map((t) => (
        <g key={'x' + t}>
          <line x1={x(t)} x2={x(t)} y1={y0} y2={y0 - tl} stroke="#000" strokeWidth={2} />
          <line x1={x(t)} x2={x(t)} y1={y1} y2={y1 + tl} stroke="#000" strokeWidth={2} />
          <text x={x(t)} y={y0 + 19} fontSize={18} textAnchor="middle" fontFamily={FONT}>{fmt(t)}</text>
        </g>
      ))}
      {Y_TICKS.map((t) => (
        <g key={'y' + t}>
          <line x1={x0} x2={x0 + tl} y1={y(t)} y2={y(t)} stroke="#000" strokeWidth={2} />
          <line x1={x1} x2={x1 - tl} y1={y(t)} y2={y(t)} stroke="#000" strokeWidth={2} />
          <text x={x0 - 4} y={y(t) + 6} fontSize={18} textAnchor="end" fontFamily={FONT}>{t}</text>
        </g>
      ))}
      <text x={(x0 + x1) / 2 + 5} y={y0 + 40} fontSize={20} textAnchor="middle" fontFamily={FONT} style={{ whiteSpace: 'pre' }}>{label}</text>
    </g>
  );
}

export default function App() {
  const W = 1099, H = 583;
  const xA = d3.scaleLinear().domain([0, 2]).range([66, 1086]);
  const yA = d3.scaleLinear().domain([-15, 15]).range([250.5, 19.5]);
  const xB = d3.scaleLinear().domain([0, 200]).range([66, 1086]);
  const yB = d3.scaleLinear().domain([-15, 15]).range([538, 304.5]);
  const cx = (m: number) => xA(m / 60);

  const band = (key: string, m: number, lo: number, hi: number, color: string) => (
    <line key={key} x1={cx(m)} x2={cx(m)} y1={yA(lo)} y2={yA(hi)} stroke={color} strokeWidth={R * 2} strokeLinecap="round" />
  );

  const area = d3
    .area<[number, number, number]>()
    .x((d) => xB(d[0]))
    .y0((d) => yB(d[1]))
    .y1((d) => yB(d[2]))
    .curve(d3.curveCatmullRom);

  return (
    <svg width={W} height={H} style={{ position: 'absolute', left: 0, top: 0, background: '#fff' }}>
      <rect width={W} height={H} fill="#fff" />
      {/* Panel a */}
      <g>
        {A_MINUTES.map((m, i) => band('b' + i, m, A_BLUE_BOT, A_BLUE_TOP[i], BLUE))}
        {A_MINUTES.map((m, i) => band('r' + i, m, A_RED_BOT[i], A_RED_TOP, RED))}
        {A_MINUTES.map((m, i) => band('g' + i, m, A_GREEN_BOT[i], A_GREEN_TOP[i], GREEN))}
        {A_BLUE_OUT.map(([m, v], i) => <circle key={'ab' + i} cx={cx(m)} cy={yA(v)} r={R} fill={BLUE} />)}
        {A_RED_OUT.map(([m, v], i) => <circle key={'ar' + i} cx={cx(m)} cy={yA(v)} r={R} fill={RED} />)}
        {A_GREEN_OUT.map(([m, v], i) => <circle key={'ag' + i} cx={cx(m)} cy={yA(v)} r={R} fill={GREEN} />)}
      </g>
      <Frame x={xA} y={yA} xTicks={A_X_TICKS} fmt={(v) => String(v)} label="Time difference between co-located RO and MODIS profiles (Hour)" />
      <text x={78} y={48} fontSize={21} fontWeight="bold" fontFamily={FONT}>a)</text>
      {/* legend */}
      <g>
        <rect x={886} y={19.5} width={200} height={67} fill="#fff" stroke="#000" strokeWidth={1.5} />
        {LEGEND.map((l, i) => (
          <g key={l.label}>
            <circle cx={913} cy={33 + i * 21} r={2.6} fill={l.color} />
            <text x={933} y={39 + i * 21} fontSize={18} fontFamily={FONT}>{l.label}</text>
          </g>
        ))}
      </g>

      {/* Panel b */}
      <g>
        <path d={area(B_BLUE_CLOUD) || ''} fill={BLUE} />
        {B_BLUE.map(([d, v], i) => <circle key={'bb' + i} cx={xB(d)} cy={yB(v)} r={R} fill={BLUE} />)}
        {B_RED.map(([d, v], i) => <circle key={'br' + i} cx={xB(d)} cy={yB(v)} r={R} fill={RED} />)}
        <path d={area(B_GREEN_CLOUD) || ''} fill={GREEN} />
        {B_GREEN.map(([d, v], i) => <circle key={'bg' + i} cx={xB(d)} cy={yB(v)} r={R} fill={GREEN} />)}
      </g>
      <Frame x={xB} y={yB} xTicks={B_X_TICKS} fmt={(v) => String(v)} label="Horizontal distance  between co-located RO and MODIS profiles (Km)" />
      <text x={75} y={334} fontSize={21} fontWeight="bold" fontFamily={FONT}>b)</text>

      <text transform="translate(22,290) rotate(-90)" fontSize={20} textAnchor="middle" fontFamily={FONT}>
        Temperature bias betwee RO and MODIS (Kelvin)
      </text>
    </svg>
  );
}
